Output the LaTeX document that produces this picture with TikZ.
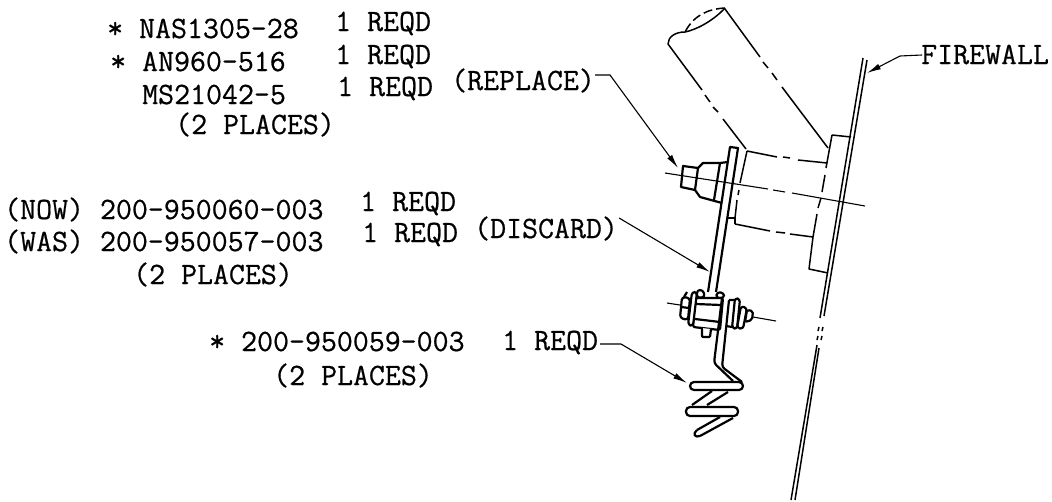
\documentclass[tikz,border=0pt]{standalone}
\usepackage{fontspec}
\setmonofont{Latin Modern Mono}[FakeBold=0.6]
\usetikzlibrary{arrows.meta}
\tikzset{
  lbl/.style={inner sep=0pt,anchor=base west,font=\ttfamily\bfseries\fontsize{31}{31}\selectfont},
  part/.style={line width=1.5pt,line join=round,black},
  heavy/.style={line width=2.2pt,line join=round,black},
  thin/.style={line width=1.1pt,black},
  lead/.style={line width=1.1pt,-{Latex[length=14pt,width=6pt]}}
}
\begin{document}
\begin{tikzpicture}[x=1pt,y=-1pt]
  \useasboundingbox (0,0) rectangle (1052,501);

  % Labels
  \node[lbl] (nas) at (107,38) {* NAS1305-28};
  \node[lbl] (nasq) at (335,31) {1 REQD};
  \node[lbl] (an) at (110,71) {* AN960-516};
  \node[lbl] (anq) at (335,64) {1 REQD};
  \node[lbl] (ms) at (142,104) {MS21042-5};
  \node[lbl] (msq) at (337,96) {1 REQD};
  \node[lbl] (rep) at (451,90) {(REPLACE)};
  \node[lbl] (msp) at (175,134) {(2 PLACES)};
  \node[lbl] (now) at (4,219) {(NOW) 200-950060-003};
  \node[lbl] (nowq) at (360,211) {1 REQD};
  \node[lbl] (was) at (4,251) {(WAS) 200-950057-003};
  \node[lbl] (wasq) at (362,242) {1 REQD};
  \node[lbl] (dis) at (474,238) {(DISCARD)};
  \node[lbl] (wasp) at (133,284) {(2 PLACES)};
  \node[lbl] (sp) at (209,351) {* 200-950059-003};
  \node[lbl] (spq) at (502,350) {1 REQD};
  \node[lbl] (spp) at (273,385) {(2 PLACES)};
  \node[lbl] (fw) at (921,64) {FIREWALL};

  % Leaders
  \coordinate (a1) at (678,168);
  \coordinate (a2) at (710,272);
  \coordinate (a3) at (687,383);
  \coordinate (a4) at (867,73);
  \draw[lead] (rep.base east) ++(0,-15) -- (610,75) -- (a1);
  \draw[lead] (dis.base east) ++(1,-20) -- (a2);
  \draw[lead] (spq.base east) ++(2,-6) -- (621,344) -- (a3);
  \draw[lead] (fw.base west) ++(1,-9) -- (900,56) -- (a4);

  % Firewall
  \draw[part] (863,58) -- (820,318) (867,60) -- (824,316);
  \draw[part] (819,327) -- (818,331) (823,327) -- (822,331) (818,336) -- (817,340) (822,336) -- (821,340);
  \draw[part] (817,345) -- (791,500) (819,348) -- (795,500);

  % Tube
  \draw[part] (725,8) .. controls (712,22) and (695,30) .. (685,32) .. controls (675,32) and (668,37) .. (668,44) -- (702,90);
  \draw[part,dash pattern=on 9pt off 4pt] (725,8) .. controls (708,9) and (694,15) .. (685,32);
  \draw[part] (705,95) -- (710,102) (713,107) -- (718,112) (723,119) -- (746,149);
  \draw[part] (725,9) -- (760,57) (763,62) -- (768,68) (772,73) -- (777,80) (782,87) -- (828,148);

  % Sleeve
  \draw[part] (747,151) -- (777,157) (783,157) -- (790,158) (798,160) -- (827,163);
  \draw[part] (735,224) -- (770,231) (776,232) -- (785,233) (790,234) -- (813,237);
  \draw[part] (832,135) -- (826,168) (825,175) -- (822,192) (821,198) -- (818,208) (817,214) -- (813,237) -- (809,269) -- (828,273);
  \draw[part] (832,135) -- (851,137);
  \draw[part] (747,151) -- (740,183) (739,190) -- (738,195) (737,200) -- (735,218);
  \draw[part] (735,218) -- (728,218) (735,218) -- (735,224);

  % Bolt
  \draw[thin] (665,173) -- (768,189) (773,190) -- (785,192) (792,193) -- (865,206);
  \draw[heavy] (683,166) -- (698,168) -- (695,190) -- (681,187) -- cycle;
  \draw[heavy] (698,168) -- (703,163) -- (720,163) -- (728,162);
  \draw[heavy] (695,190) -- (700,197) -- (722,203);
  \draw[heavy] (720,163) -- (714,200);

  % Bracket
  \draw[heavy] (708,292) -- (730,147) -- (738,148) -- (716,292);

  % Clamp
  \draw[thin] (667,303) -- (680,305) (753,317) -- (776,321);
  \draw[heavy,fill=white,rounded corners=3pt] (697,290) -- (703,290) -- (705,297) -- (697,298) -- cycle;
  \draw[heavy,fill=white,rounded corners=3pt] (717,292) -- (724,293) -- (724,298) -- (716,298) -- cycle;
  \draw[heavy,fill=white,rounded corners=2pt] (695,298) -- (723,298) -- (720,330) -- (693,327) -- cycle;
  \draw[heavy,fill=white,rounded corners=3pt] (692,292) -- (697,292) -- (693,326) -- (688,325) -- cycle;
  \draw[heavy,fill=white,rounded corners=3pt] (682,297) -- (690,298) -- (688,320) -- (680,318) -- cycle;
  \draw[heavy] (681,307) -- (689,308) (684,297) -- (687,292);
  \draw[heavy] (696,304) -- (721,305) (695,319) -- (720,322);
  \draw[heavy,fill=white,rounded corners=1pt] (702,328) -- (702,337) -- (710,337) -- (711,329);

  % Spring clip
  \draw[heavy,rounded corners=3pt] (722,298) -- (714,363) -- (733,381);
  \draw[heavy,rounded corners=3pt] (729,300) -- (722,367) -- (742,382);
  \draw[heavy] (729,300) -- (735,300) (726,326) -- (732,327);
  \draw[heavy,fill=white,rounded corners=3pt] (735,298) -- (732,328) -- (737,329) -- (740,299) -- cycle;
  \draw[heavy,fill=white,rounded corners=3pt] (741,306) -- (737,328) -- (743,329) -- (747,308) -- cycle;
  \draw[heavy,fill=white,rounded corners=2pt] (747,310) -- (753,311) -- (752,320) -- (745,322) -- cycle;
  \draw[heavy] (692,405) -- (712,391) (707,405) -- (728,392);
  \draw[heavy,fill=white,rounded corners=4pt] (690,382) rectangle (743,390);
  \draw[heavy] (697,430) -- (720,417) (700,436) -- (733,418);
  \draw[heavy,fill=white,rounded corners=4pt] (686,407) rectangle (738,416);
  \draw[heavy] (697,430) .. controls (692,434) and (695,438) .. (700,436);
\end{tikzpicture}
\end{document}
